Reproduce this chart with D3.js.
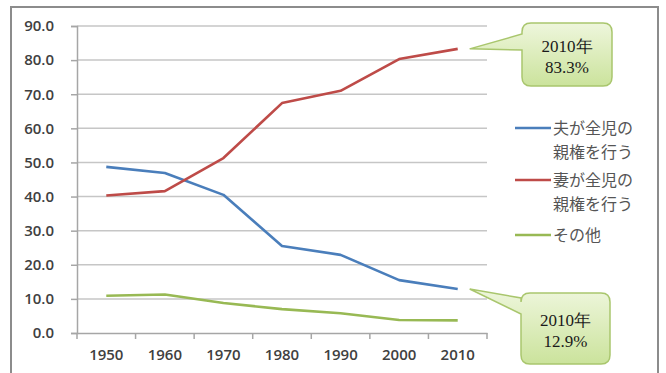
<!DOCTYPE html>
<html>
<head>
<meta charset="utf-8">
<script src="https://cdn.jsdelivr.net/npm/d3@7"></script>
<style>
  html, body { margin: 0; padding: 0; background: #fff; }
  svg { display: block; }
</style>
</head>
<body>
<svg id="chart" width="666" height="373"></svg>
<script>
// 離婚時の親権者別割合（%）
const years = ["1950", "1960", "1970", "1980", "1990", "2000", "2010"];
const husband = [48.7, 46.9, 40.5, 25.5, 22.9, 15.5, 12.9];
const wife    = [40.3, 41.6, 51.3, 67.4, 71.0, 80.3, 83.3];
const other   = [10.9, 11.3, 8.8, 7.0, 5.8, 3.8, 3.7];
const seriesNames = ["夫が全児の\n親権を行う", "妻が全児の\n親権を行う", "その他"];
const seriesColors = ["#4a7ebb", "#be4b48", "#98b954"];
const yTicks = [0, 10, 20, 30, 40, 50, 60, 70, 80, 90];

const series = [husband, wife, other].map((vals, i) => ({
  name: seriesNames[i], color: seriesColors[i], values: vals
}));

const svg = d3.select("#chart");
const plot = { left: 77, right: 487, top: 26, bottom: 333 };

// outer frame
svg.append("rect")
  .attr("x", 11).attr("y", 7).attr("width", 647).attr("height", 372)
  .attr("fill", "#fff").attr("stroke", "#8c8c8c").attr("stroke-width", 2);

const x = d3.scaleBand().domain(years).range([plot.left, plot.right]);
const y = d3.scaleLinear().domain([0, 90]).range([plot.bottom, plot.top]);

const labelFont = "'Open Sans', 'Liberation Sans', sans-serif";

// gridlines
svg.append("g")
  .selectAll("line")
  .data(yTicks.filter(d => d > 0))
  .join("line")
  .attr("x1", plot.left).attr("x2", plot.right)
  .attr("y1", d => y(d)).attr("y2", d => y(d))
  .attr("stroke", "#c6c6c6").attr("stroke-width", 1.5);

// y axis
const yAxis = svg.append("g")
  .attr("transform", `translate(${plot.left},0)`)
  .call(d3.axisLeft(y).tickValues(yTicks).tickFormat(d3.format(".1f")).tickSize(6).tickPadding(17));
yAxis.select(".domain").attr("stroke", "#a6a6a6").attr("stroke-width", 1.5);
yAxis.selectAll(".tick line").attr("stroke", "#a6a6a6").attr("stroke-width", 1.5);
yAxis.selectAll("text")
  .attr("font-family", labelFont).attr("font-size", 15).attr("font-weight", 600)
  .attr("fill", "#404040");

// x axis: ticks on band boundaries, labels at band centres
const xAxis = svg.append("g")
  .attr("transform", `translate(0,${plot.bottom})`)
  .call(d3.axisBottom(x).tickSize(0).tickPadding(16));
xAxis.select(".domain").attr("stroke", "#a6a6a6").attr("stroke-width", 1.5);
xAxis.selectAll("text")
  .attr("font-family", labelFont).attr("font-size", 15).attr("font-weight", 600)
  .attr("fill", "#404040");
const bounds = years.map(d => x(d)).concat([x(years[years.length - 1]) + x.bandwidth()]);
svg.append("g").selectAll("line")
  .data(bounds)
  .join("line")
  .attr("x1", d => d).attr("x2", d => d)
  .attr("y1", plot.bottom).attr("y2", plot.bottom + 6)
  .attr("stroke", "#a6a6a6").attr("stroke-width", 1.5);

// series lines
const line = d3.line()
  .x((d, i) => x(years[i]) + x.bandwidth() / 2)
  .y(d => y(d));
svg.append("g").selectAll("path")
  .data(series)
  .join("path")
  .attr("d", d => line(d.values))
  .attr("fill", "none")
  .attr("stroke", d => d.color)
  .attr("stroke-width", 2.6)
  .attr("stroke-linejoin", "round");

// legend
const legendRows = [128, 180, 235];
const legend = svg.append("g");
series.forEach((s, i) => {
  const ly = legendRows[i];
  legend.append("line")
    .attr("x1", 515).attr("x2", 551).attr("y1", ly).attr("y2", ly)
    .attr("stroke", s.color).attr("stroke-width", 2.6);
  const t = legend.append("text")
    .attr("x", 553).attr("y", ly + 6)
    .attr("font-family", "'Noto Sans CJK JP', sans-serif")
    .attr("font-size", 16).attr("fill", "#555555");
  s.name.split("\n").forEach((part, k) => {
    t.append("tspan").attr("x", 553).attr("dy", k === 0 ? 0 : 24).text(part);
  });
});

// callouts for the 2010 values
const defs = svg.append("defs");
const grad = defs.append("linearGradient")
  .attr("id", "calloutFill").attr("x1", 0).attr("y1", 0).attr("x2", 0).attr("y2", 1);
grad.append("stop").attr("offset", "0%").attr("stop-color", "#eef6dc");
grad.append("stop").attr("offset", "100%").attr("stop-color", "#cbe39c");

function callout(seriesIdx, box, join) {
  const s = series[seriesIdx];
  const last = s.values.length - 1;
  const tipX = x(years[last]) + x.bandwidth() / 2 + 12;
  const tipY = y(s.values[last]);
  const r = 9;
  const { x0, y0, x1, y1 } = box;
  const p = d3.path();
  p.moveTo(x0 + r, y0);
  p.lineTo(x1 - r, y0);
  p.quadraticCurveTo(x1, y0, x1, y0 + r);
  p.lineTo(x1, y1 - r);
  p.quadraticCurveTo(x1, y1, x1 - r, y1);
  p.lineTo(x0 + r, y1);
  p.quadraticCurveTo(x0, y1, x0, y1 - r);
  p.lineTo(x0, join[1]);
  p.lineTo(tipX, tipY);
  p.lineTo(x0, join[0]);
  p.lineTo(x0, y0 + r);
  p.quadraticCurveTo(x0, y0, x0 + r, y0);
  p.closePath();
  svg.append("path")
    .attr("d", p.toString())
    .attr("fill", "url(#calloutFill)")
    .attr("stroke", "#a9c66d").attr("stroke-width", 1.5);
  const cx = (x0 + x1) / 2;
  const cy = (y0 + y1) / 2;
  const g = svg.append("text")
    .attr("text-anchor", "middle")
    .attr("font-family", "'Liberation Serif', 'DejaVu Serif', serif")
    .attr("font-size", 17).attr("fill", "#1a1a1a");
  g.append("tspan").attr("x", cx).attr("y", cy - 3).text(`${years[last]}年`);
  g.append("tspan").attr("x", cx).attr("y", cy + 18).text(`${s.values[last].toFixed(1)}%`);
}

callout(1, { x0: 522, y0: 23, x1: 612, y1: 86 }, [34, 50]);
callout(0, { x0: 521, y0: 293, x1: 610, y1: 364 }, [298, 314]);
</script>
</body>
</html>
